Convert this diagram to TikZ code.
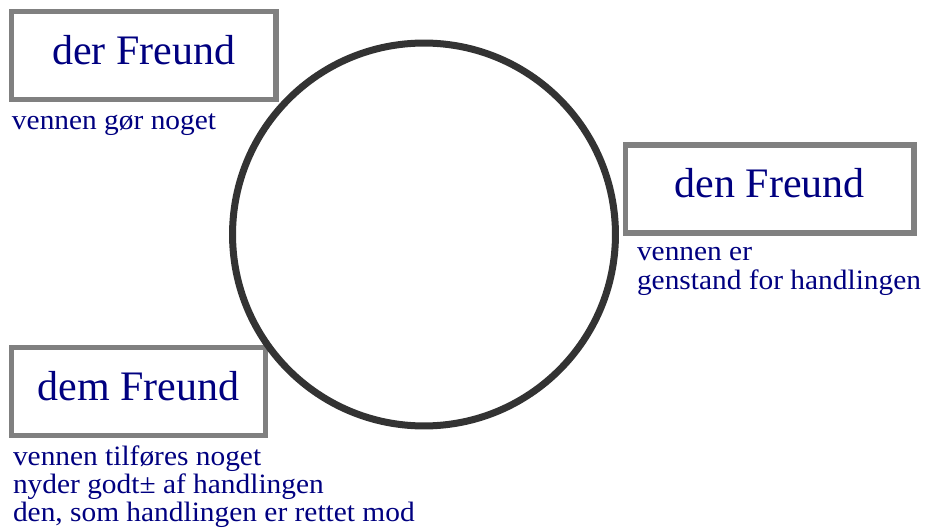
\documentclass[tikz,border=0pt]{standalone}
\usepackage{fontspec}
\setmainfont{Liberation Serif}
\newfontfamily\smallserif[FakeStretch=1.05]{Liberation Serif}
\definecolor{txtblue}{HTML}{000080}
\definecolor{boxgrey}{HTML}{808080}
\definecolor{ringgrey}{HTML}{333333}
\tikzset{
  casebox/.style={draw=boxgrey, line width=4pt, fill=white, inner sep=0pt, outer sep=0pt,
    text height=39.75pt, text depth=26.25pt, align=center, anchor=north west,
    text=txtblue, font=\fontsize{31.5pt}{36pt}\selectfont},
  note/.style={anchor=base west, inner sep=0pt, outer sep=0pt, align=left, text=txtblue,
    font=\smallserif\fontsize{21pt}{21.25pt}\selectfont},
  ring/.style={draw=ringgrey, line width=5.25pt, circle, inner sep=0pt, minimum size=287.2pt}
}
\begin{document}
\begin{tikzpicture}[x=0.75pt, y=-0.75pt]
\useasboundingbox (0,0) rectangle (926,531);
\node[casebox, minimum width=198.2pt] (der) at (11.7,11.7) {der Freund};
\node[casebox, minimum width=216.5pt] (den) at (625.3,145) {den Freund};
\node[casebox, minimum width=190.2pt] (dem) at (11.7,347.7) {dem Freund};
\node[ring] (ring) at (424,234.5) {};
\node[note] (derNote) at (12,130) {vennen gør noget};
\node[note] (denNote) at (637,289.3) {vennen er\\genstand for handlingen};
\node[note] (demNote) at (13,521.7) {vennen tilføres noget\\nyder godt± af handlingen\\den, som handlingen er rettet mod};
\end{tikzpicture}
\end{document}
